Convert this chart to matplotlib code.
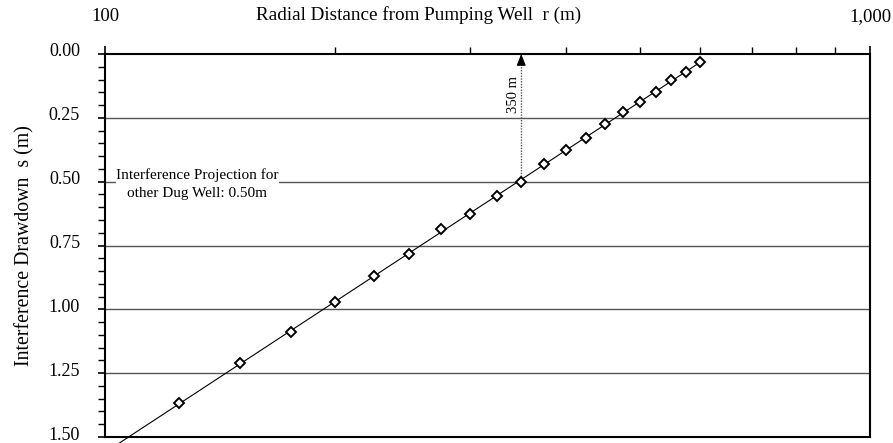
import numpy as np
import matplotlib.pyplot as plt
from matplotlib import ticker
from matplotlib.transforms import ScaledTranslation

plt.rcParams['font.family'] = ['Liberation Serif', 'DejaVu Serif']

# radial distance (m) and interference drawdown (m)
radius = [125, 150, 175, 200, 225, 250, 275, 300, 325, 350,
          375, 400, 425, 450, 475, 500, 525, 550, 575, 600]
drawdown = [1.368, 1.211, 1.089, 0.971, 0.869, 0.783, 0.687, 0.625, 0.555, 0.500,
            0.431, 0.376, 0.330, 0.275, 0.228, 0.188, 0.149, 0.102, 0.071, 0.031]

trend_r = [104, 600]          # extent of the straight-line fit
other_well_r = 350            # distance to the other dug well
other_well_s = 0.50           # projected interference there

x_ticks = [100, 1000]
x_tick_labels = ['100', '1,000']
x_minor = [200, 300, 400, 500, 600, 700, 800, 900]
y_ticks = [0.0, 0.25, 0.5, 0.75, 1.0, 1.25, 1.5]
y_tick_labels = ['0.00', '0.25', '0.50', '0.75', '1.00', '1.25', '1.50']

fig = plt.figure(figsize=(8.93, 4.43), dpi=100)
ax = fig.add_axes([105 / 893, 1 - 437 / 443, 765 / 893, 383 / 443])

ax.set_xscale('log')
ax.set_xlim(100, 1000)
ax.set_ylim(1.5, 0.0)

# horizontal grid lines
for yv in y_ticks[1:-1]:
    ax.axhline(yv, color='#555555', lw=1.0, zorder=1)

# fitted line through the points
coef = np.polyfit(np.log10(radius), drawdown, 1)
tr = np.array(trend_r, dtype=float)
ax.plot(tr, np.polyval(coef, np.log10(tr)), color='black', lw=0.8,
        clip_on=False, zorder=2)

ax.plot(radius, drawdown, linestyle='none', marker='D', markersize=5,
        markerfacecolor='white', markeredgecolor='black', markeredgewidth=1.4,
        zorder=4)

# dotted arrow from the projection up to the distance axis
ax.plot([other_well_r, other_well_r], [other_well_s, 0.03], color='#555555',
        lw=1.0, linestyle=(0, (1, 1)), zorder=3)
ax.annotate('', xy=(other_well_r, 0.0), xytext=(other_well_r, 0.035),
            arrowprops=dict(arrowstyle='-|>,head_length=0.7,head_width=0.28',
                            color='black', lw=0.8, shrinkA=0, shrinkB=0),
            zorder=5)
ax.text(other_well_r * 0.996, 0.16, f'{other_well_r} m', rotation=90,
        ha='right', va='center', fontsize=10.5)

ax.text(132, other_well_s + 0.01, 'Interference Projection for\nother Dug Well: 0.50m',
        ha='center', va='center', fontsize=11, linespacing=1.45,
        bbox=dict(facecolor='white', edgecolor='none', pad=0.3), zorder=3)

# axes styling
ax.xaxis.tick_top()
ax.set_xticks(x_ticks)
ax.set_xticklabels(x_tick_labels)
ax.xaxis.set_minor_locator(ticker.FixedLocator(x_minor))
ax.xaxis.set_minor_formatter(ticker.NullFormatter())
ax.tick_params(axis='x', which='major', direction='inout', length=12, width=1.2,
               pad=15, labelsize=13.5)
ax.tick_params(axis='x', which='minor', direction='out', length=5, width=1.0)

ax.set_yticks(y_ticks)
ax.set_yticklabels(y_tick_labels)
ax.yaxis.set_minor_locator(ticker.MultipleLocator(0.05))
ax.tick_params(axis='y', which='major', direction='out', length=5, width=1.2,
               pad=13, labelsize=13)
ax.tick_params(axis='y', which='minor', direction='out', length=5, width=1.0)
shift_up = ScaledTranslation(0, 4 / 100, fig.dpi_scale_trans)
for lab in ax.get_yticklabels():
    lab.set_transform(lab.get_transform() + shift_up)

for side in ['top', 'bottom', 'left', 'right']:
    ax.spines[side].set_linewidth(1.5)

fig.text(419 / 893, 1 - 15 / 443, 'Radial Distance from Pumping Well  r (m)',
         ha='center', va='center', fontsize=13.8)
ax.set_ylabel('Interference Drawdown  s (m)', fontsize=14.3, labelpad=10)

fig.savefig('out.png', dpi=100)
